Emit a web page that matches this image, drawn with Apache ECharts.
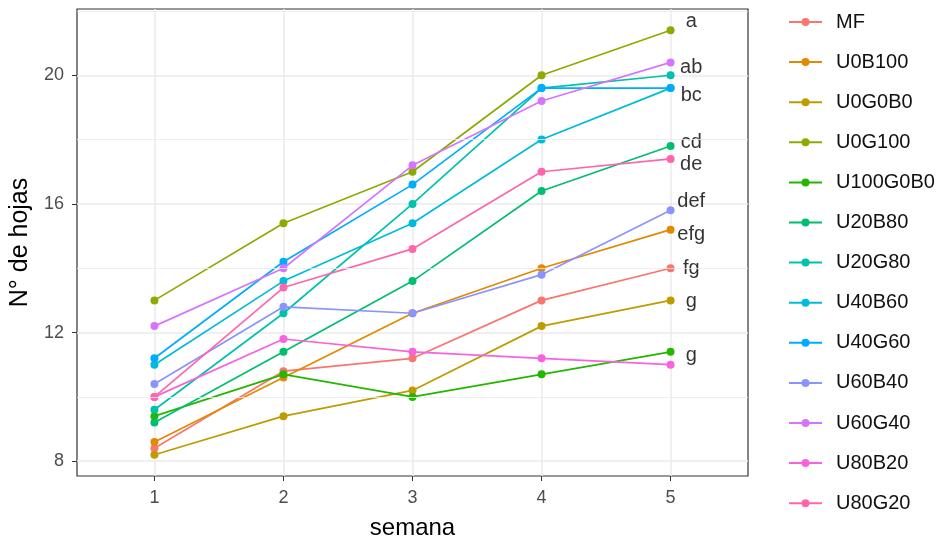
<!DOCTYPE html>
<html>
<head>
<meta charset="utf-8">
<script src="https://cdn.jsdelivr.net/npm/echarts@6/dist/echarts.min.js"></script>
<style>
html,body{margin:0;padding:0;background:#fff;}
#chart{width:944px;height:545px;}
</style>
</head>
<body>
<div id="chart"></div>
<script>
// ---- data ----
const weeks = [1, 2, 3, 4, 5];
const treatments = ['MF','U0B100','U0G0B0','U0G100','U100G0B0','U20B80','U20G80','U40B60','U40G60','U60B40','U60G40','U80B20','U80G20'];
const MF       = [8.4, 10.8, 11.2, 13.0, 14.0];
const U0B100   = [8.6, 10.6, 12.6, 14.0, 15.2];
const U0G0B0   = [8.2, 9.4, 10.2, 12.2, 13.0];
const U0G100   = [13.0, 15.4, 17.0, 20.0, 21.4];
const U100G0B0 = [9.4, 10.7, 10.0, 10.7, 11.4];
const U20B80   = [9.2, 11.4, 13.6, 16.4, 17.8];
const U20G80   = [9.6, 12.6, 16.0, 19.6, 20.0];
const U40B60   = [11.0, 13.6, 15.4, 18.0, 19.6];
const U40G60   = [11.2, 14.2, 16.6, 19.6, 19.6];
const U60B40   = [10.4, 12.8, 12.6, 13.8, 15.8];
const U60G40   = [12.2, 14.0, 17.2, 19.2, 20.4];
const U80B20   = [10.0, 11.8, 11.4, 11.2, 11.0];
const U80G20   = [10.0, 13.4, 14.6, 17.0, 17.4];
const seriesValues = [MF, U0B100, U0G0B0, U0G100, U100G0B0, U20B80, U20G80, U40B60, U40G60, U60B40, U60G40, U80B20, U80G20];
const letters = ['a','ab','bc','cd','de','def','efg','fg','g','g'];
const letterY = [21.66, 20.25, 19.38, 17.91, 17.24, 16.07, 15.05, 13.99, 12.97, 11.28];
const yTicks = [8, 12, 16, 20];
const yMinor = [10, 14, 18, 22];

const colors = ['#F8766D','#E18A00','#BE9C00','#8CAB00','#24B700','#00BE70','#00C1AB','#00BBDA','#00ACFC','#8B93FF','#D575FE','#F962DD','#FF65AC'];
const FONT = '"Liberation Sans", Arial, sans-serif';

const chart = echarts.init(document.getElementById('chart'), null, {renderer: 'canvas'});

const series = [];
series.push({
  name: '__grid',
  type: 'line',
  data: [],
  z: 1,
  silent: true,
  markLine: {
    silent: true,
    symbol: 'none',
    label: {show: false},
    lineStyle: {color: '#EBEBEB', width: 0.8, type: 'solid'},
    emphasis: {disabled: true},
    data: yMinor.map(v => ({yAxis: v}))
  }
});
treatments.forEach((name, i) => {
  series.push({
    name: name,
    type: 'line',
    z: 3,
    data: weeks.map((w, j) => [w, seriesValues[i][j]]),
    symbol: 'circle',
    symbolSize: 8,
    showSymbol: true,
    color: colors[i],
    lineStyle: {width: 1.7, color: colors[i]},
    itemStyle: {color: colors[i]},
    emphasis: {disabled: true}
  });
});
series.push({
  name: '__letters',
  type: 'scatter',
  z: 4,
  symbolSize: 0,
  silent: true,
  data: letters.map((t, i) => [5.16, letterY[i], t]),
  label: {
    show: true,
    position: 'inside',
    formatter: p => p.value[2],
    color: '#000',
    fontSize: 20,
    fontFamily: FONT
  }
});

chart.setOption({
  animation: false,
  backgroundColor: '#fff',
  grid: {
    left: 77, right: 196, top: 9, bottom: 69,
    show: true, borderColor: '#333333', borderWidth: 1.2, backgroundColor: '#fff'
  },
  xAxis: {
    type: 'value',
    min: 0.4, max: 5.6,
    name: 'semana',
    nameLocation: 'middle',
    nameGap: 40,
    nameTextStyle: {fontSize: 24, color: '#000', fontFamily: FONT},
    axisLine: {show: false},
    axisTick: {show: true, length: 5, lineStyle: {color: '#333'}, customValues: weeks},
    axisLabel: {fontSize: 18, color: '#4D4D4D', fontFamily: FONT, margin: 13, customValues: weeks},
    splitLine: {show: true, lineStyle: {color: '#EBEBEB', width: 1.5}},
    minorSplitLine: {show: false}
  },
  yAxis: {
    type: 'value',
    min: 7.54, max: 22.06,
    name: 'N° de hojas',
    nameLocation: 'middle',
    nameGap: 36,
    nameRotate: 90,
    nameTextStyle: {fontSize: 25, color: '#000', fontFamily: FONT},
    axisLine: {show: false},
    axisTick: {show: true, length: 5, lineStyle: {color: '#333'}, customValues: yTicks},
    axisLabel: {fontSize: 18, color: '#4D4D4D', fontFamily: FONT, margin: 13, customValues: yTicks},
    splitLine: {show: true, lineStyle: {color: '#EBEBEB', width: 1.5}}
  },
  legend: {
    orient: 'vertical',
    left: 783,
    top: 7,
    itemWidth: 33,
    itemHeight: 10,
    itemGap: 20.1,
    data: treatments,
    textStyle: {fontSize: 20, color: '#111', fontFamily: FONT, padding: [0, 0, 0, 9]},
    selectedMode: false
  },
  series: series
});
</script>
</body>
</html>
